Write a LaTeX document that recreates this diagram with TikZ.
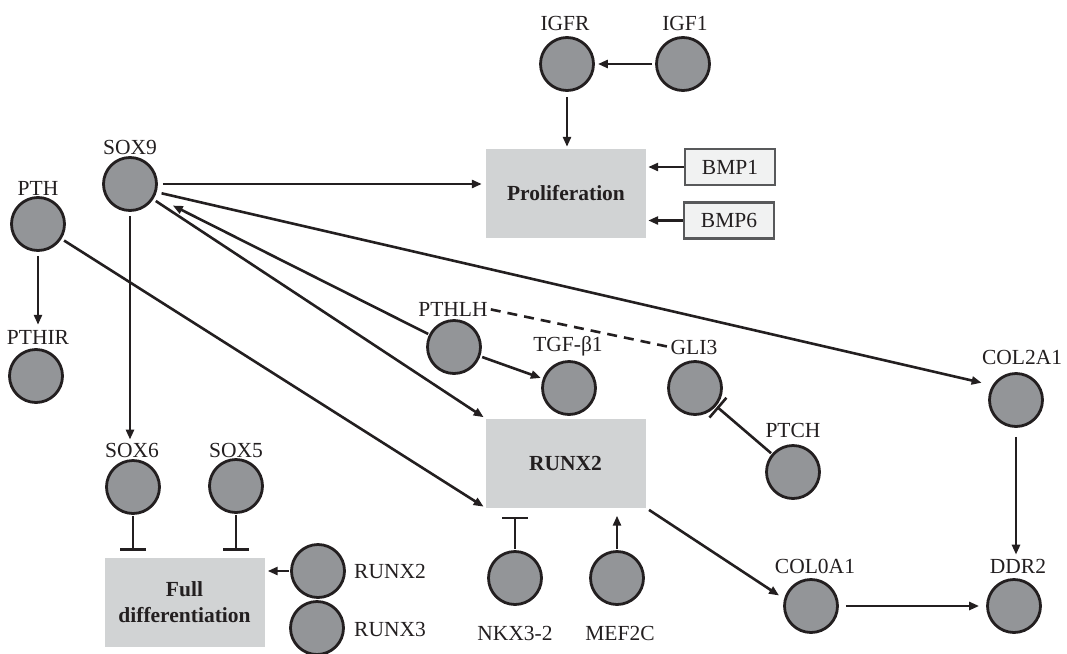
\documentclass[tikz,border=0pt]{standalone}
\usepackage{fontspec}
\setmainfont{Liberation Serif}
\usetikzlibrary{arrows.meta}
\definecolor{ink}{HTML}{231F20}
\definecolor{ballfill}{HTML}{939598}
\definecolor{boxfill}{HTML}{D1D3D4}
\definecolor{bmpfill}{HTML}{F1F2F2}
\definecolor{bmpline}{HTML}{58595B}
\begin{document}
\begin{tikzpicture}[x=1pt,y=-1pt,
  ball/.style={circle,draw=ink,fill=ballfill,line width=2.8pt,minimum size=53pt,inner sep=0pt},
  lbl/.style={text=ink,font=\fontsize{21.5}{25}\selectfont,inner sep=1pt},
  procbox/.style={fill=boxfill,minimum width=160pt,minimum height=89pt,inner sep=0pt,text=ink,font=\fontsize{21.5}{26}\selectfont\bfseries,align=center},
  bmpbox/.style={draw=bmpline,fill=bmpfill,line width=2.4pt,minimum width=90pt,minimum height=36pt,inner sep=0pt,text=ink,font=\fontsize{21.5}{25}\selectfont},
  act/.style={draw=ink,line width=2.6pt,-{Triangle[length=10pt,width=8pt]}},
  inh/.style={draw=ink,line width=2.6pt,-{Bar[width=26pt]}},
  dashline/.style={draw=ink,line width=2.6pt,dash pattern=on 10pt off 7pt}]
\useasboundingbox (0,0) rectangle (1067,653);

% boxes
\node[procbox] (prolif) at (566,193.5) {Proliferation};
\node[procbox] (runxbox) at (565.5,463) {RUNX2};
\node[procbox] (fulldiff) at (184.5,602.5) {Full\\differentiation};
\node[bmpbox] (bmp1) at (730,167) {BMP1};
\node[bmpbox] (bmp6) at (729,220.5) {BMP6};

% circles
\node[ball] (igfr) at (567,64) {};
\node[ball] (igf1) at (683,64) {};
\node[ball] (sox9) at (130,184) {};
\node[ball] (pth) at (38,224) {};
\node[ball] (pthir) at (36,376) {};
\node[ball] (pthlh) at (454,347) {};
\node[ball] (tgf) at (569,388) {};
\node[ball] (gli3) at (695,388) {};
\node[ball] (ptch) at (793,472) {};
\node[ball] (col2a1) at (1016,400) {};
\node[ball] (ddr2) at (1014,606) {};
\node[ball] (col0a1) at (811,606) {};
\node[ball] (sox6) at (133,487) {};
\node[ball] (sox5) at (236,486) {};
\node[ball] (runx2s) at (318,571) {};
\node[ball] (runx3s) at (317,628) {};
\node[ball] (nkx) at (515,578) {};
\node[ball] (mef) at (617,578) {};

% labels
\node[lbl] (Ligfr) at (565,23) {IGFR};
\node[lbl] (Ligf1) at (685,23) {IGF1};
\node[lbl] (Lsox9) at (130,147) {SOX9};
\node[lbl] (Lpth) at (38,188) {PTH};
\node[lbl] (Lpthir) at (38,337) {PTHIR};
\node[lbl] (Lpthlh) at (453,309) {PTHLH};
\node[lbl] (Ltgf) at (568,346) {TGF-β1};
\node[lbl] (Lgli3) at (694,347) {GLI3};
\node[lbl] (Lptch) at (793,430) {PTCH};
\node[lbl] (Lcol2a1) at (1022,357) {COL2A1};
\node[lbl] (Lddr2) at (1018,566) {DDR2};
\node[lbl] (Lcol0a1) at (815,566) {COL0A1};
\node[lbl] (Lsox6) at (132,450) {SOX6};
\node[lbl] (Lsox5) at (236,450) {SOX5};
\node[lbl,anchor=west] (Lrunx2s) at (353,571) {RUNX2};
\node[lbl,anchor=west] (Lrunx3s) at (353,629) {RUNX3};
\node[lbl] (Lnkx) at (515,633) {NKX3-2};
\node[lbl] (Lmef) at (620,633) {MEF2C};

% connectors
\draw[act,shorten <=3pt,shorten >=3pt] (igf1) -- (igfr);
\draw[act,shorten <=5pt,shorten >=2pt] (igfr.south) -- (igfr.south |- prolif.north);
\draw[act,shorten >=2pt] (bmp1.west) -- (bmp1.west -| prolif.east);
\draw[act,shorten >=2pt] (bmp6.west) -- (bmp6.west -| prolif.east);
\draw[act,shorten <=5pt,shorten >=4pt] (sox9.east) -- (sox9.east -| prolif.west);
\draw[act,shorten <=4pt,shorten >=4pt] (pth.south) -- (pth.south |- Lpthir.north);
\draw[act,shorten <=4pt,shorten >=2pt] (sox9.south) -- (sox9.south |- Lsox6.north);
\draw[act,shorten <=3pt,shorten >=2pt] (sox9) -- (runxbox.north west);
\draw[act,shorten <=3pt,shorten >=2pt] (pth) -- (runxbox.south west);
\draw[act,shorten <=1pt,shorten >=20pt] (pthlh) -- (sox9);
\draw[act,shorten <=5pt,shorten >=11pt] (sox9.-17) -- (col2a1.148);
\draw[act,shorten <=2pt,shorten >=2pt] (pthlh) -- (tgf);
\draw[dashline,shorten <=2pt,shorten >=2pt] (Lpthlh.east) -- (Lgli3.west);
\draw[inh,shorten <=1pt,shorten >=1pt] (ptch) -- (gli3);
\draw[act,shorten <=9pt,shorten >=3pt] (col2a1.south) -- (col2a1.south |- Lddr2.north);
\draw[act,shorten <=7pt,shorten >=7pt] (col0a1) -- (ddr2);
\draw[act,shorten <=4pt,shorten >=6pt] (runxbox.south east) -- (col0a1.165);
\draw[inh,shorten <=1pt,shorten >=9pt] (nkx.north) -- (nkx.north |- runxbox.south);
\draw[act,shorten <=1pt,shorten >=8pt] (mef.north) -- (mef.north |- runxbox.south);
\draw[inh,shorten <=1pt,shorten >=7pt] (sox6.south) -- (sox6.south |- fulldiff.north);
\draw[inh,shorten <=1pt,shorten >=7pt] (sox5.south) -- (sox5.south |- fulldiff.north);
\draw[act,shorten <=1pt,shorten >=3pt] (runx2s.west) -- (runx2s.west -| fulldiff.east);
\end{tikzpicture}
\end{document}
